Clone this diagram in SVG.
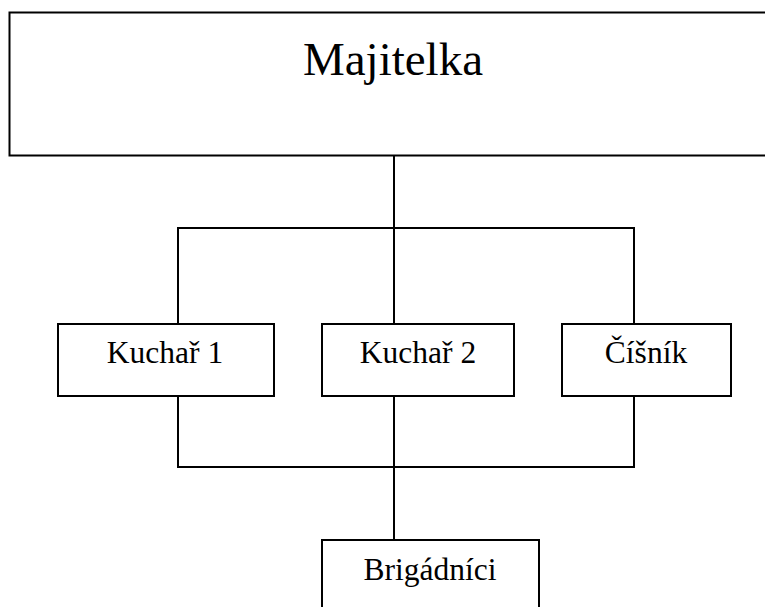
<svg xmlns="http://www.w3.org/2000/svg" width="765" height="607" viewBox="0 0 765 607">
<style>
.box{fill:#fff;stroke:#000;stroke-width:2}
.ln{fill:none;stroke:#000;stroke-width:2}
text{font-family:"Liberation Serif","Times New Roman",serif;fill:#000;text-anchor:middle}
.s{font-size:31.5px}
</style>
<rect width="765" height="607" fill="#fff"/>
<g id="connectors">
<line class="ln" x1="394" y1="156" x2="394" y2="324"/>
<polyline class="ln" points="178,324 178,228 634,228 634,324"/>
<polyline class="ln" points="178,396 178,467 634,467 634,396"/>
<line class="ln" x1="394" y1="396" x2="394" y2="540"/>
</g>
<g id="majitelka">
<rect class="box" x="9.5" y="12.5" width="770" height="143"/>
<text x="393" y="75" style="font-size:47px">Majitelka</text>
</g>
<g id="kuchar1">
<rect class="box" x="58" y="324" width="216" height="72"/>
<text class="s" x="165" y="363">Kuchař 1</text>
</g>
<g id="kuchar2">
<rect class="box" x="322" y="324" width="192" height="72"/>
<text class="s" x="418" y="363">Kuchař 2</text>
</g>
<g id="cisnik">
<rect class="box" x="562" y="324" width="169" height="72"/>
<text class="s" x="646" y="363">Číšník</text>
</g>
<g id="brigadnici">
<rect class="box" x="322" y="540" width="217" height="80"/>
<text class="s" x="430" y="580">Brigádníci</text>
</g>
</svg>
